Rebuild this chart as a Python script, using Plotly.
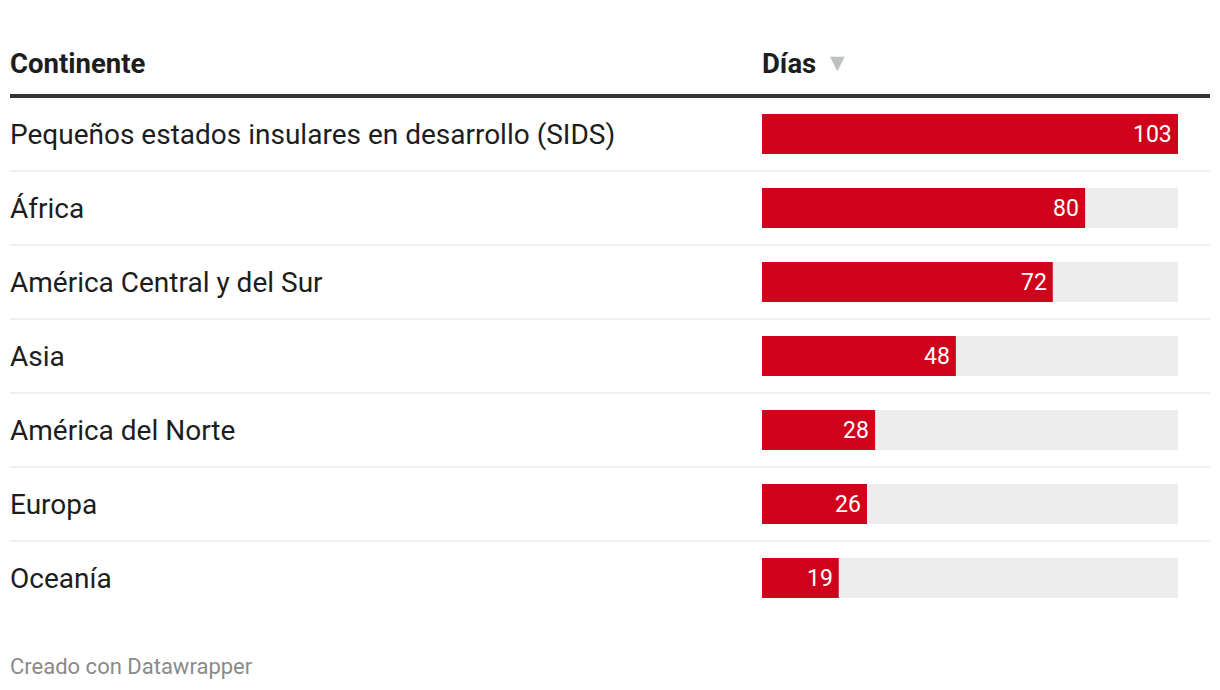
import plotly.graph_objects as go

categories = ["Pequeños estados insulares en desarrollo (SIDS)", "África",
              "América Central y del Sur", "Asia", "América del Norte",
              "Europa", "Oceanía"]
dias = [103, 80, 72, 48, 28, 26, 19]
header_label = "Continente"
header_value = "Días"
footer = "Creado con Datawrapper"

OFF = 8  # page body margin
W, H = 1220 - 2 * OFF, 690 - 2 * OFF
row0, step = 134 - OFF, 74
x0_px, x1_px = 762 - OFF, 1178 - OFF
max_val = max(dias)

def px_x(px):
    return (px - OFF) / W

def yval(px):
    return (px - OFF - row0) / step

fig = go.Figure()
idx = list(range(len(categories)))
fig.add_trace(go.Bar(y=idx, x=[max_val] * len(dias), orientation="h",
                     marker=dict(color="#ededed", line=dict(width=0)),
                     width=40 / step, hoverinfo="skip"))
fig.add_trace(go.Bar(y=idx, x=dias, orientation="h",
                     marker=dict(color="#d0021b", line=dict(width=0)),
                     width=40 / step, hoverinfo="skip"))

annotations = []
for i, (c, v) in enumerate(zip(categories, dias)):
    annotations.append(dict(x=px_x(8), xref="paper", y=i, yref="y", text=c,
                            showarrow=False, xanchor="left", yanchor="middle",
                            font=dict(family="Roboto", size=28, color="#1d1d1d")))
    annotations.append(dict(x=v, xref="x", y=i, yref="y", text=str(v),
                            showarrow=False, xanchor="right", yanchor="middle",
                            xshift=-4,
                            font=dict(family="Roboto", size=23, color="#ffffff")))

annotations.append(dict(x=px_x(8), xref="paper", y=yval(63), yref="y",
                        text="<b>" + header_label + "</b>", showarrow=False,
                        xanchor="left", yanchor="middle",
                        font=dict(family="Roboto", size=27.5, color="#1d1d1d")))
annotations.append(dict(x=px_x(760), xref="paper", y=yval(63), yref="y",
                        text="<b>" + header_value + "</b>", showarrow=False,
                        xanchor="left", yanchor="middle",
                        font=dict(family="Roboto", size=27.5, color="#1d1d1d")))
annotations.append(dict(x=px_x(828), xref="paper", y=yval(62), yref="y",
                        text="▼", showarrow=False,
                        xanchor="left", yanchor="middle",
                        font=dict(family="DejaVu Sans", size=19, color="#c0c0c0")))
annotations.append(dict(x=px_x(8), xref="paper", y=yval(666), yref="y",
                        text=footer, showarrow=False,
                        xanchor="left", yanchor="middle",
                        font=dict(family="Roboto", size=22, color="#8a8a8a")))

shapes = [dict(type="line", xref="paper", yref="y", x0=px_x(10), x1=px_x(1210),
               y0=yval(96), y1=yval(96), line=dict(color="#333333", width=4))]
for k in range(len(categories) - 1):
    shapes.append(dict(type="line", xref="paper", yref="y", x0=px_x(10), x1=px_x(1210),
                       y0=k + 0.5, y1=k + 0.5, line=dict(color="#ebebeb", width=1.5)))

fig.update_layout(
    width=W, height=H, margin=dict(l=0, r=0, t=0, b=0),
    paper_bgcolor="white", plot_bgcolor="white",
    barmode="overlay", showlegend=False,
    xaxis=dict(domain=[x0_px / W, x1_px / W], range=[0, max_val],
               visible=False, fixedrange=True),
    yaxis=dict(range=[yval(690 - OFF), yval(OFF)], visible=False, fixedrange=True),
    annotations=annotations, shapes=shapes,
)
fig.write_html("out.html", config={"displayModeBar": False})
